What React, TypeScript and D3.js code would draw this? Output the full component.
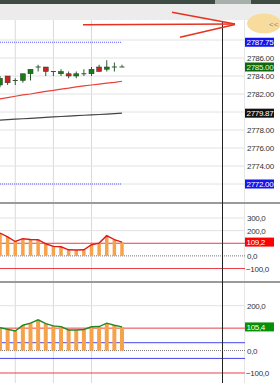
import React from 'react'
import * as d3 from 'd3'

// candles (oldest -> newest)
const opens = [2783.0, 2784.0, 2783.5, 2783.5, 2784.25, 2785.0, 2785.0, 2784.5, 2784.25, 2784.25, 2784.0, 2784.25, 2784.25, 2785.0, 2784.75, 2785.0, 2785.0]
const highs = [2784.0, 2784.0, 2783.75, 2784.25, 2784.75, 2785.25, 2785.0, 2784.5, 2784.75, 2784.5, 2784.5, 2784.75, 2785.0, 2785.25, 2785.75, 2785.5, 2785.25]
const lows = [2782.75, 2783.0, 2783.0, 2783.25, 2783.5, 2784.5, 2784.0, 2784.0, 2784.0, 2783.75, 2783.75, 2784.0, 2784.0, 2784.5, 2784.5, 2784.5, 2785.0]
const closes = [2783.75, 2783.25, 2783.5, 2784.25, 2784.75, 2785.0, 2784.5, 2784.5, 2784.5, 2784.0, 2784.25, 2784.25, 2784.75, 2784.5, 2785.0, 2785.0, 2785.0]

// moving averages
const maRed = [2781.45, 2781.6, 2781.75, 2781.9, 2782.0, 2782.15, 2782.3, 2782.4, 2782.55, 2782.65, 2782.8, 2782.9, 2783.0, 2783.1, 2783.2, 2783.3, 2783.42]
const maDark = [2779.1, 2779.15, 2779.2, 2779.25, 2779.3, 2779.35, 2779.4, 2779.45, 2779.5, 2779.55, 2779.6, 2779.64, 2779.68, 2779.72, 2779.77, 2779.82, 2779.87]

// oscillators
const cci = [181, 150, 114, 136, 130, 128, 96, 75, 72, 48, 46, 48, 88, 101, 160, 128, 109.2]
const osc2 = [102, 95, 87, 113, 122, 137, 120, 110, 107, 92, 92, 94, 106, 107, 122, 113, 105.4]

const priceTicks = [2772, 2774, 2776, 2778, 2780, 2782, 2784, 2786, 2788]
const cciTicks = [300, 200, 100, 0, -100]
const osc2Ticks = [200, 100, 0, -100]

const upperBand = 2787.75
const lowerBand = 2772.0

const W = 280
const H = 383
const plotRight = 245
const cursorX = 222.5
const font = '"Liberation Sans", Arial, sans-serif'

const x = d3.scaleLinear().domain([0, 16]).range([0, 122])
const yP = d3.scaleLinear().domain([2772, 2788]).range([184, 40])
const y2 = d3.scaleLinear().domain([-100, 300]).range([268.5, 218])
const y3 = d3.scaleLinear().domain([-100, 200]).range([373, 305.7])

const idx = d3.range(closes.length)
const gridIdx = [2, 7, 12]

const fmtP = d3.format('.2f')
const fmtC = (v: number) => d3.format('.1f')(v).replace('.', ',')

const txt = { fontSize: 8, fontFamily: font, letterSpacing: '-0.3px' }

function Tag({ y, text, fill, color = '#fff' }: { y: number; text: string; fill: string; color?: string }) {
  return (
    <g>
      <rect x={245} y={y - 4.5} width={29} height={9} fill={fill} />
      <text x={246.5} y={y + 3} fill={color} style={txt}>{text}</text>
    </g>
  )
}

function Labels({ ticks, scale, fmt, skip }: { ticks: number[]; scale: d3.ScaleLinear<number, number>; fmt: (v: number) => string; skip: number[] }) {
  return (
    <g>
      {ticks.filter((t) => !skip.some((s) => Math.abs(scale(t) - s) < 7)).map((t) => (
        <text key={t} x={t < 0 ? 246 : 247} y={scale(t) + 3} fill="#333" style={txt}>{fmt(t)}</text>
      ))}
    </g>
  )
}

export default function App() {
  const lineP = (arr: number[]) => d3.line<number>().x((_, i) => x(i)).y((d) => yP(d))(arr) || ''
  const line2 = d3.line<number>().x((_, i) => x(i)).y((d) => y2(d))(cci) || ''
  const line3 = d3.line<number>().x((_, i) => x(i)).y((d) => y3(d))(osc2) || ''

  const tagsP = [yP(upperBand), yP(2785), yP(2779.87), yP(lowerBand)]

  return (
    <svg width={W} height={H} style={{ position: 'absolute', left: 0, top: 0, background: '#fff' }}>
      {/* header */}
      <rect x={0} y={0} width={W} height={20} fill="#ececec" />
      <rect x={0} y={0} width={W} height={4} fill="#3e4c44" />
      <rect x={215} y={0} width={36} height={4} fill="#a9b0ab" />

      {/* vertical grid */}
      {gridIdx.map((i) => (
        <line key={i} x1={x(i)} x2={x(i)} y1={20} y2={H} stroke="#d9d9d9" />
      ))}
      <line x1={plotRight - 0.5} x2={plotRight - 0.5} y1={20} y2={H} stroke="#e6e6e6" />

      {/* price panel grid */}
      {priceTicks.map((t) => (
        <line key={t} x1={0} x2={plotRight} y1={yP(t)} y2={yP(t)} stroke="#e2e2e2" />
      ))}

      {/* bands */}
      <line x1={0} x2={121} y1={yP(upperBand)} y2={yP(upperBand)} stroke="#5a5aff" strokeDasharray="1,1" />
      <line x1={0} x2={121} y1={yP(lowerBand)} y2={yP(lowerBand)} stroke="#5a5aff" strokeDasharray="1,1" />

      {/* moving averages */}
      <path d={lineP(maRed)} fill="none" stroke="#e8403a" strokeWidth={1.2} />
      <path d={lineP(maDark)} fill="none" stroke="#444" strokeWidth={1.2} />

      {/* candles */}
      {idx.map((i) => {
        const o = opens[i]
        const c = closes[i]
        const cx = x(i)
        const doji = o === c
        const col = c > o ? '#1a7a1a' : '#cc2222'
        return (
          <g key={i}>
            <line x1={cx} x2={cx} y1={yP(highs[i])} y2={yP(lows[i])} stroke="#2f5a2f" />
            {doji ? (
              <line x1={cx - 2.5} x2={cx + 2.5} y1={yP(o)} y2={yP(o)} stroke="#2f5a2f" />
            ) : (
              <rect x={cx - 2.5} y={yP(Math.max(o, c))} width={5} height={Math.abs(yP(o) - yP(c))} fill={col} stroke="#2a3a2a" strokeWidth={0.5} />
            )}
          </g>
        )
      })}

      <Labels ticks={priceTicks} scale={yP} fmt={fmtP} skip={tagsP} />
      <Tag y={yP(upperBand)} text={fmtP(upperBand)} fill="#1515ee" />
      <Tag y={yP(2785)} text={fmtP(2785)} fill="#0b6a0b" color="#e6f2e6" />
      <Tag y={yP(2779.87)} text="2779.87" fill="#111" />
      <Tag y={yP(lowerBand)} text={fmtP(lowerBand)} fill="#1515ee" />

      {/* separator 1 */}
      <rect x={0} y={202} width={W} height={2} fill="#9a9a9a" />

      {/* panel 2 */}
      {[300, 200].map((t) => (
        <line key={t} x1={0} x2={plotRight} y1={y2(t)} y2={y2(t)} stroke="#e2e2e2" />
      ))}
      <line x1={0} x2={plotRight} y1={y2(100)} y2={y2(100)} stroke="#e8404a" />
      <line x1={0} x2={plotRight} y1={y2(-100)} y2={y2(-100)} stroke="#e8404a" />
      <line x1={0} x2={plotRight} y1={y2(0)} y2={y2(0)} stroke="#777" strokeDasharray="1,1" />
      {cci.map((v, i) => (
        <rect key={i} x={x(i) - 1.75} y={y2(v)} width={3.5} height={y2(0) - y2(v)} fill="#f6a24a" />
      ))}
      <path d={line2} fill="none" stroke="#e01818" strokeWidth={1.4} />
      <Labels ticks={cciTicks} scale={y2} fmt={fmtC} skip={[y2(109.2)]} />
      <Tag y={y2(109.2)} text={fmtC(109.2)} fill="#ff0000" />

      {/* separator 2 */}
      <rect x={0} y={281} width={W} height={2} fill="#9a9a9a" />

      {/* panel 3 */}
      <line x1={0} x2={plotRight} y1={y3(200)} y2={y3(200)} stroke="#e2e2e2" />
      <line x1={0} x2={plotRight} y1={y3(100)} y2={y3(100)} stroke="#e8404a" />
      <line x1={0} x2={plotRight} y1={y3(-100)} y2={y3(-100)} stroke="#e8404a" />
      <line x1={0} x2={plotRight} y1={y3(35)} y2={y3(35)} stroke="#4646ee" />
      <line x1={0} x2={plotRight} y1={y3(-35)} y2={y3(-35)} stroke="#4646ee" />
      <line x1={0} x2={plotRight} y1={y3(0)} y2={y3(0)} stroke="#777" strokeDasharray="1,1" />
      {osc2.map((v, i) => (
        <rect key={i} x={x(i) - 2} y={y3(v)} width={4} height={y3(0) - y3(v)} fill="#f6a24a" />
      ))}
      <path d={line3} fill="none" stroke="#1f8a1f" strokeWidth={1.4} />
      <Labels ticks={osc2Ticks} scale={y3} fmt={fmtC} skip={[y3(105.4)]} />
      <Tag y={y3(105.4)} text={fmtC(105.4)} fill="#069006" />

      {/* cursor */}
      <line x1={cursorX} x2={cursorX} y1={21} y2={H} stroke="#222" />

      {/* drawn arrow */}
      <g stroke="#e5331f" strokeWidth={1.4} fill="none">
        <line x1={83} y1={24.7} x2={235} y2={24} />
        <line x1={172} y1={12.3} x2={235} y2={24} />
        <line x1={180} y1={37.3} x2={235} y2={24.5} />
      </g>
      <ellipse cx={264} cy={23.5} rx={17} ry={10} fill="#f8dc9e" />
      <text x={269} y={26.5} fontSize={8} fill="#8a8a8a" fontFamily={font}>{'<<'}</text>
    </svg>
  )
}
